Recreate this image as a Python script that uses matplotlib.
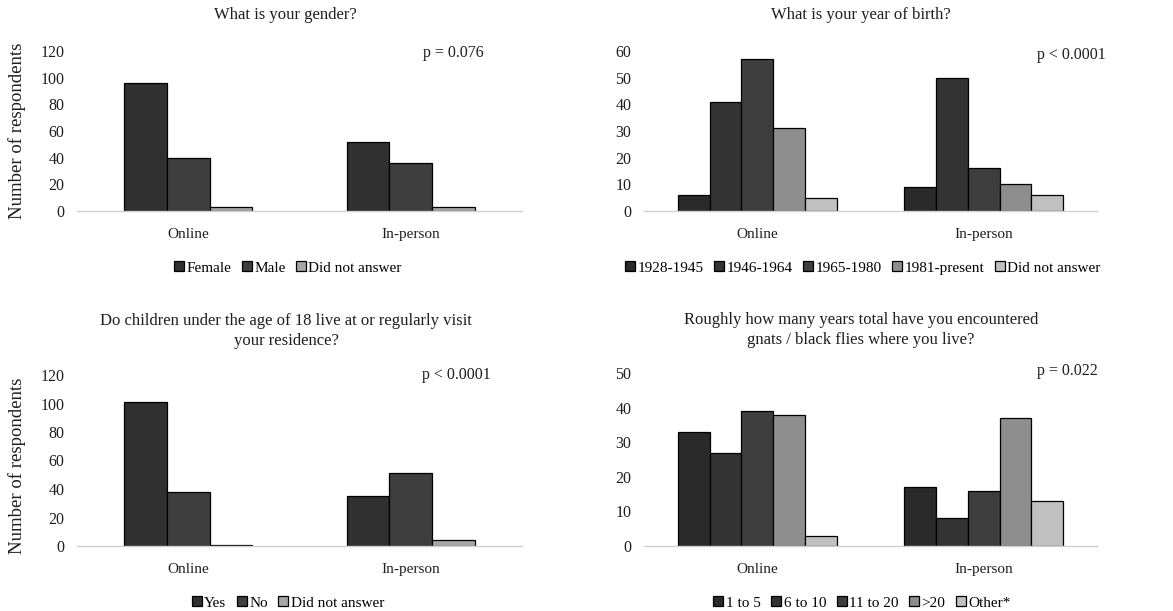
import matplotlib
matplotlib.use("Agg")
import matplotlib.pyplot as plt
import numpy as np

plt.rcParams['font.family'] = ['Liberation Serif', 'DejaVu Serif']

W, H = 1173, 611

groups = ["Online", "In-person"]

# Gender
gender_labels = ["Female", "Male", "Did not answer"]
gender_online = [96, 40, 3]
gender_inperson = [52, 36, 3]

# Year of birth
birth_labels = ["1928-1945", "1946-1964", "1965-1980", "1981-present", "Did not answer"]
birth_online = [6, 41, 57, 31, 5]
birth_inperson = [9, 50, 16, 10, 6]

# Children at residence
kids_labels = ["Yes", "No", "Did not answer"]
kids_online = [101, 38, 1]
kids_inperson = [35, 51, 4]

# Years with gnats / black flies
years_labels = ["1 to 5", "6 to 10", "11 to 20", ">20", "Other*"]
years_online = [33, 27, 39, 38, 3]
years_inperson = [17, 8, 16, 37, 13]

grays3 = ["#303030", "#3e3e3e", "#a6a6a6"]
grays5 = ["#2a2a2a", "#333333", "#3d3d3d", "#8e8e8e", "#c0c0c0"]

panels = [
    dict(title="What is your gender?", labels=gender_labels,
         online=gender_online, inperson=gender_inperson, colors=grays3,
         ymax=120, step=20, p="p = 0.076", box=(77, 522, 51, 211),
         group_frac=0.575, title_xy=(285, 15), p_xy=(453, 53),
         leg_xy=(288, 268), ylabel_xy=(17, 131)),
    dict(title="What is your year of birth?", labels=birth_labels,
         online=birth_online, inperson=birth_inperson, colors=grays5,
         ymax=60, step=10, p="p < 0.0001", box=(644, 1097, 51, 211),
         group_frac=0.70, title_xy=(861, 15), p_xy=(1071, 55),
         leg_xy=(863, 268), ylabel_xy=None),
    dict(title="Do children under the age of 18 live at or regularly visit\nyour residence?",
         labels=kids_labels, online=kids_online, inperson=kids_inperson,
         colors=grays3, ymax=120, step=20, p="p < 0.0001",
         box=(77, 522, 375, 546), group_frac=0.575, title_xy=(286, 331),
         p_xy=(456, 375), leg_xy=(288, 603), ylabel_xy=(17, 466)),
    dict(title="Roughly how many years total have you encountered\ngnats / black flies where you live?",
         labels=years_labels, online=years_online, inperson=years_inperson,
         colors=grays5, ymax=50, step=10, p="p = 0.022",
         box=(644, 1097, 373, 546), group_frac=0.70, title_xy=(861, 330),
         p_xy=(1067, 371), leg_xy=(862, 603), ylabel_xy=None),
]

fig = plt.figure(figsize=(W / 100, H / 100), dpi=100)

for pn in panels:
    x0, x1, ytop, yzero = pn["box"]
    ax = fig.add_axes([x0 / W, 1 - yzero / H, (x1 - x0) / W, (yzero - ytop) / H])

    n = len(pn["labels"])
    bw = pn["group_frac"] / n
    x = np.arange(len(groups))
    for i, lab in enumerate(pn["labels"]):
        vals = [pn["online"][i], pn["inperson"][i]]
        offs = (i - (n - 1) / 2) * bw
        ax.bar(x + offs, vals, bw, color=pn["colors"][i], edgecolor="black",
               linewidth=0.9, label=lab, zorder=3)

    ax.set_xlim(-0.5, 1.5)
    ax.set_ylim(0, pn["ymax"])
    ax.set_yticks(np.arange(0, pn["ymax"] + 1, pn["step"]))
    ax.set_xticks(x)
    ax.set_xticklabels(groups)
    ax.tick_params(axis="both", length=0, colors="#1e1e1e")
    ax.tick_params(axis="x", pad=12, labelsize=11)
    ax.tick_params(axis="y", pad=9, labelsize=11.5)
    for side in ["top", "right", "left"]:
        ax.spines[side].set_visible(False)
    ax.spines["bottom"].set_color("#d0d0d0")
    ax.spines["bottom"].set_linewidth(1.0)
    ax.spines["bottom"].set_zorder(4)

    tx, ty = pn["title_xy"]
    fig.text(tx / W, 1 - ty / H, pn["title"], ha="center", va="center",
             fontsize=12, color="#1e1e1e", linespacing=1.35)
    px, py = pn["p_xy"]
    fig.text(px / W, 1 - py / H, pn["p"], ha="center", va="center",
             fontsize=11.5, color="#1e1e1e")
    if pn["ylabel_xy"]:
        lx, ly = pn["ylabel_xy"]
        fig.text(lx / W, 1 - ly / H, "Number of respondents", rotation=90,
                 ha="center", va="center", fontsize=13.5, color="#1e1e1e")

    lx, ly = pn["leg_xy"]
    ax.legend(loc="center", bbox_to_anchor=(lx / W, 1 - ly / H),
              bbox_transform=fig.transFigure, ncol=n, frameon=False,
              fontsize=11, handlelength=0.65, handleheight=0.65,
              handletextpad=0.15, columnspacing=0.7, borderpad=0)

fig.savefig("out.png", dpi=100, facecolor="white")
